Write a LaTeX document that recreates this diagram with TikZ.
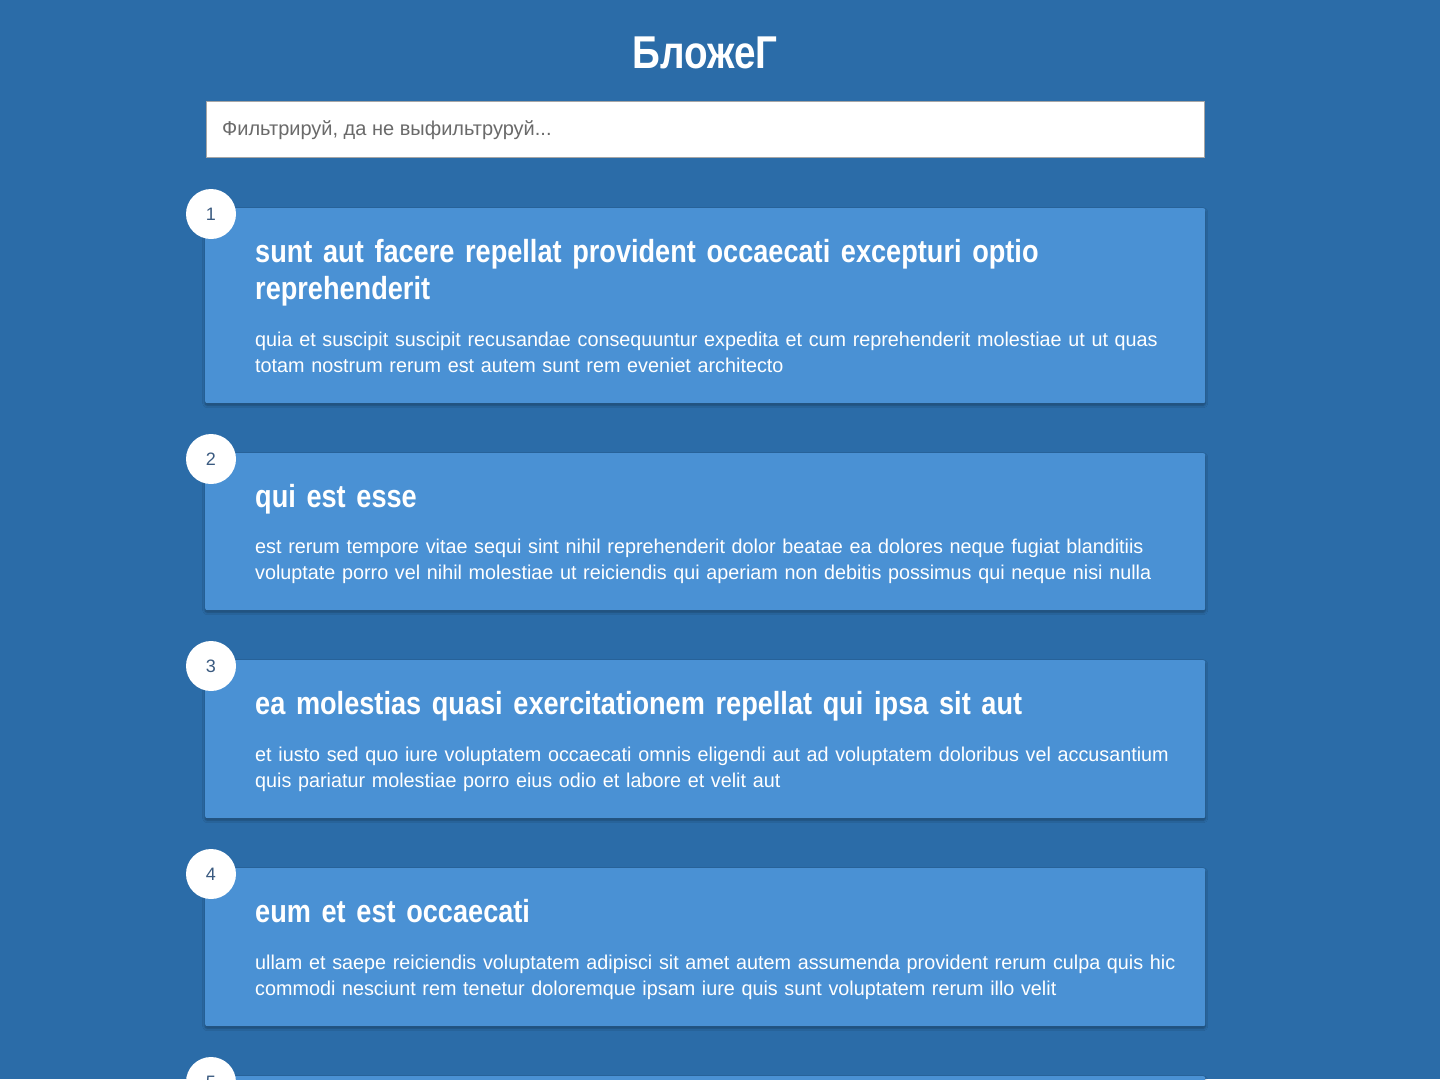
\documentclass[tikz,border=0pt]{standalone}
\usepackage{fontspec}
\setmainfont{Liberation Sans}
\newfontfamily\ttlfont[FakeStretch=0.848]{Liberation Sans}
\newfontfamily\headfont[FakeStretch=0.84]{Liberation Sans}
\newfontfamily\bdyfont[FakeStretch=0.989]{Liberation Sans}
\usetikzlibrary{shadows.blur}
\definecolor{bg}{HTML}{2B6CA8}
\definecolor{cardc}{HTML}{4A91D4}
\definecolor{numc}{HTML}{3A5A80}
\definecolor{phc}{HTML}{6A6A6A}
\tikzset{
  cardbox/.style={fill=cardc, rounded corners=2pt,
    blur shadow={shadow xshift=0pt, shadow yshift=-2pt, shadow blur radius=2.5pt, shadow blur steps=6, shadow opacity=35}},
  numcirc/.style={circle, fill=white, minimum size=50pt, inner sep=0pt, text=numc, font=\fontsize{18}{20}\selectfont},
  ttl/.style={anchor=base west, align=left, text width=960pt, inner sep=0pt, text=white, font=\ttlfont\bfseries\fontsize{32}{37}\selectfont},
  bdy/.style={anchor=base west, align=left, text width=960pt, inner sep=0pt, text=white, font=\bdyfont\fontsize{20}{26}\selectfont},
}
\begin{document}
\begin{tikzpicture}[x=1pt,y=-1pt]
\useasboundingbox (0,0) rectangle (1440,1079);
\clip (0,0) rectangle (1440,1079);
\fill[bg] (0,0) rectangle (1440,1079);
\node[anchor=base, text=white, font=\headfont\bfseries\fontsize{46}{50}\selectfont, inner sep=0pt] (head) at (705,68) {БложеГ};
\node[draw=black!35, line width=0.8pt, fill=white, minimum width=998pt, minimum height=56pt, anchor=north west, inner sep=0pt] (search) at (206,101) {};
\node[anchor=base west, inner sep=0pt, text=phc, font=\fontsize{20}{22}\selectfont] (ph) at (222,135) {Фильтрируй, да не выфильтруруй...};
% card 1
\node[cardbox, minimum width=1000pt, minimum height=195pt, anchor=north west, inner sep=0pt] (c1) at (205,208) {};
\node[numcirc] (n1) at (211,214) {1};
\node[ttl] (t1) at (255,262) {sunt aut facere repellat provident occaecati excepturi optio\\reprehenderit};
\node[bdy] (b1) at (255,346) {quia et suscipit suscipit recusandae consequuntur expedita et cum reprehenderit molestiae ut ut quas\\totam nostrum rerum est autem sunt rem eveniet architecto};
% card 2
\node[cardbox, minimum width=1000pt, minimum height=157pt, anchor=north west, inner sep=0pt] (c2) at (205,453) {};
\node[numcirc] (n2) at (211,459) {2};
\node[ttl] (t2) at (255,507) {qui est esse};
\node[bdy] (b2) at (255,553) {est rerum tempore vitae sequi sint nihil reprehenderit dolor beatae ea dolores neque fugiat blanditiis\\voluptate porro vel nihil molestiae ut reiciendis qui aperiam non debitis possimus qui neque nisi nulla};
% card 3
\node[cardbox, minimum width=1000pt, minimum height=158pt, anchor=north west, inner sep=0pt] (c3) at (205,660) {};
\node[numcirc] (n3) at (211,666) {3};
\node[ttl] (t3) at (255,714) {ea molestias quasi exercitationem repellat qui ipsa sit aut};
\node[bdy] (b3) at (255,761) {et iusto sed quo iure voluptatem occaecati omnis eligendi aut ad voluptatem doloribus vel accusantium\\quis pariatur molestiae porro eius odio et labore et velit aut};
% card 4
\node[cardbox, minimum width=1000pt, minimum height=158pt, anchor=north west, inner sep=0pt] (c4) at (205,868) {};
\node[numcirc] (n4) at (211,874) {4};
\node[ttl] (t4) at (255,922) {eum et est occaecati};
\node[bdy] (b4) at (255,969) {ullam et saepe reiciendis voluptatem adipisci sit amet autem assumenda provident rerum culpa quis hic\\commodi nesciunt rem tenetur doloremque ipsam iure quis sunt voluptatem rerum illo velit};
% card 5
\node[cardbox, minimum width=1000pt, minimum height=158pt, anchor=north west, inner sep=0pt] (c5) at (205,1076) {};
\node[numcirc] (n5) at (211,1082) {5};
\end{tikzpicture}
\end{document}
